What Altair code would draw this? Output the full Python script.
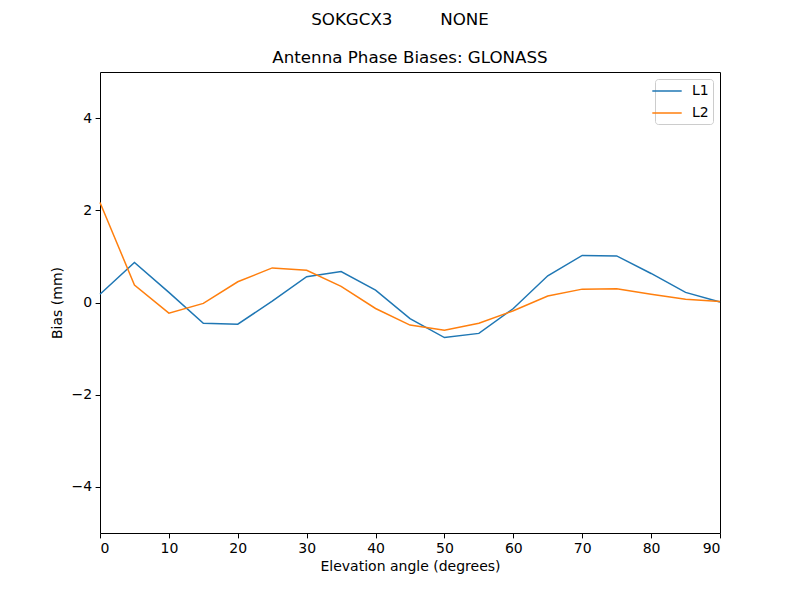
import altair as alt
import pandas as pd

elev = [0, 5, 10, 15, 20, 25, 30, 35, 40, 45, 50, 55, 60, 65, 70, 75, 80, 85, 90]
l1 = [0.18, 0.87, 0.22, -0.45, -0.47, 0.03, 0.56, 0.67, 0.27, -0.35, -0.76, -0.67, -0.13, 0.58, 1.02, 1.01, 0.63, 0.22, 0.01]
l2 = [2.17, 0.38, -0.23, -0.02, 0.45, 0.75, 0.70, 0.35, -0.13, -0.49, -0.60, -0.45, -0.18, 0.14, 0.29, 0.30, 0.18, 0.07, 0.02]
series = ["L1", "L2"]
colors = ["#1f77b4", "#ff7f0e"]
suptitle = "SOKGCX3" + "\u00a0" * 9 + "NONE"
title = "Antenna Phase Biases: GLONASS"

rows = []
for name, vals in zip(series, [l1, l2]):
    for e, v in zip(elev, vals):
        rows.append({"elev": e, "bias": v, "series": name})
df = pd.DataFrame(rows)

FONT = "DejaVu Sans"

lines = alt.Chart(df).mark_line(strokeWidth=1.5).encode(
    x=alt.X("elev:Q", scale=alt.Scale(domain=[0, 90], nice=False, zero=False),
            axis=alt.Axis(title="Elevation angle (degrees)", values=list(range(0, 91, 10)))),
    y=alt.Y("bias:Q", scale=alt.Scale(domain=[-5, 5], nice=False),
            axis=alt.Axis(title="Bias (mm)", values=[-4, -2, 0, 2, 4])),
    color=alt.Color("series:N", scale=alt.Scale(domain=series, range=colors),
                    legend=alt.Legend(title=None, orient="top-right", offset=7,
                                      symbolType="M-2.1,0H2.1", symbolSize=196, symbolStrokeWidth=1.5,
                                      symbolFillColor="transparent",
                                      labelFontSize=14, labelFont=FONT, labelColor="black",
                                      strokeColor="#cccccc", fillColor="white", padding=4,
                                      cornerRadius=3, rowPadding=7, labelOffset=17)),
)

sup = alt.Chart(pd.DataFrame({"t": [suptitle]})).mark_text(
    font=FONT, fontSize=16.7, color="black", align="center", baseline="middle"
).encode(text="t:N", x=alt.value(300), y=alt.value(-52))

ttl = alt.Chart(pd.DataFrame({"t": [title]})).mark_text(
    font=FONT, fontSize=16.7, color="black", align="center", baseline="middle"
).encode(text="t:N", x=alt.value(310), y=alt.value(-14))

chart = alt.layer(lines, sup, ttl).properties(
    width=620, height=461,
    padding={"left": 92, "top": 64, "right": 72, "bottom": 59},
    autosize=alt.AutoSizeParams(type="none"),
).configure_view(
    stroke="black", strokeWidth=1
).configure_axis(
    grid=False, domain=False, tickColor="black", tickSize=4.9, tickWidth=1,
    labelFont=FONT, labelFontSize=14, labelColor="black", labelPadding=3.5,
    titleFont=FONT, titleFontSize=14, titleFontWeight="normal", titleColor="black",
).configure_axisX(titlePadding=4).configure_axisY(titlePadding=6)

chart.save("out.html", embed_options={"renderer": "svg", "actions": False})
